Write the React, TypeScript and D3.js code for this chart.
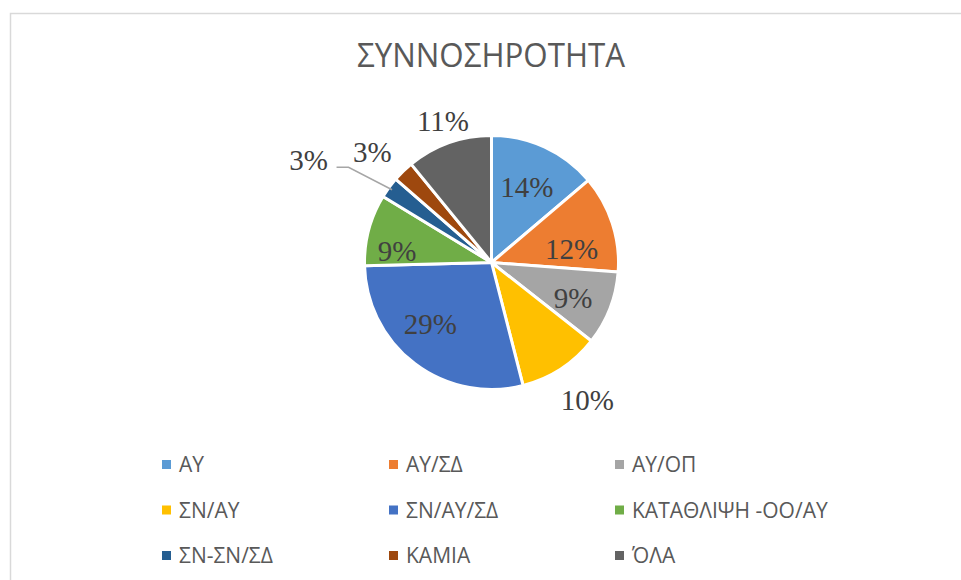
import * as d3 from 'd3';

const categories = ['ΑΥ', 'ΑΥ/ΣΔ', 'ΑΥ/ΟΠ', 'ΣΝ/ΑΥ', 'ΣΝ/ΑΥ/ΣΔ', 'ΚΑΤΑΘΛΙΨΗ -ΟΟ/ΑΥ', 'ΣΝ-ΣΝ/ΣΔ', 'ΚΑΜΙΑ', 'ΌΛΑ'];
const values = [13.8, 12.4, 9.4, 10.4, 28.6, 9.1, 2.7, 2.7, 10.9];
const colors = ['#5B9BD5', '#ED7D31', '#A5A5A5', '#FFC000', '#4472C4', '#70AD47', '#255E91', '#9E480E', '#636363'];
const title = 'ΣΥΝΝΟΣΗΡΟΤΗΤΑ';

// label placement (best-fit like): radius factor and angle shift (deg) per slice
const labelRadius = [0.66, 0.64, 0.7, 1.32, 0.685, 0.75, 1.65, 1.28, 1.18];
const labelShift = [0, 8, 2, -1.7, 7.7, -7.7, -7, -3, 0.7];

const W = 961;
const H = 580;
const cx = 491.5;
const cy = 262.5;
const R = 127;

const App = () => {
  const total = d3.sum(values);
  const pie = d3.pie<number>().sort(null).value(d => d);
  const arcs = pie(values);
  const arc = d3.arc<d3.PieArcDatum<number>>().innerRadius(0).outerRadius(R);

  const labelPos = (a: d3.PieArcDatum<number>, i: number) => {
    const mid = (a.startAngle + a.endAngle) / 2 + (labelShift[i] * Math.PI) / 180;
    const k = labelRadius[i];
    return [Math.sin(mid) * R * k, -Math.cos(mid) * R * k];
  };

  const legendX = d3.scaleOrdinal<number, number>().domain([0, 1, 2]).range([162, 389, 615]);
  const legendY = d3.scaleOrdinal<number, number>().domain([0, 1, 2]).range([464.5, 510, 555.5]);

  // leader line for the small dark-blue slice
  const leadIdx = 6;
  const la = arcs[leadIdx];
  const lmid = (la.startAngle + la.endAngle) / 2;
  const edge = [Math.sin(lmid) * R * 0.97, -Math.cos(lmid) * R * 0.97];
  const [lx, ly] = labelPos(la, leadIdx);

  return (
    <svg width={W} height={H} style={{ position: 'absolute', left: 0, top: 0, background: '#fff' }}>
      <rect x={10.5} y={13.5} width={W + 20} height={H + 20} fill="#fff" stroke="#d9d9d9" strokeWidth={1.5} />
      <text x={491} y={67} textAnchor="middle" fontFamily="'Open Sans', sans-serif" fontSize={32.5} fill="#595959" textLength={268} lengthAdjust="spacingAndGlyphs">
        {title}
      </text>
      <g transform={`translate(${cx},${cy})`}>
        {arcs.map((a, i) => (
          <path key={i} d={arc(a) ?? ''} fill={colors[i]} stroke="#fff" strokeWidth={3} strokeLinejoin="round" />
        ))}
        <polyline
          points={`${lx + 28},${ly + 7} ${lx + 40},${ly + 7} ${edge[0]},${edge[1]}`}
          fill="none"
          stroke="#a6a6a6"
          strokeWidth={1.5}
        />
        {arcs.map((a, i) => {
          const [x, y] = labelPos(a, i);
          return (
            <text key={i} x={x} y={y} dy="0.35em" textAnchor="middle" fontFamily="'Liberation Serif', 'Times New Roman', serif" fontSize={29} fill="#404040">
              {`${Math.round((values[i] / total) * 100)}%`}
            </text>
          );
        })}
      </g>
      {categories.map((c, i) => {
        const x = legendX(i % 3);
        const y = legendY(Math.floor(i / 3));
        return (
          <g key={c} transform={`translate(${x},${y})`}>
            <rect x={0} y={-4.5} width={9} height={9} fill={colors[i]} />
            <text x={17} y={0} dy="0.36em" fontFamily="'Open Sans', sans-serif" fontSize={21} fill="#595959">
              {c}
            </text>
          </g>
        );
      })}
    </svg>
  );
};

export default App;
